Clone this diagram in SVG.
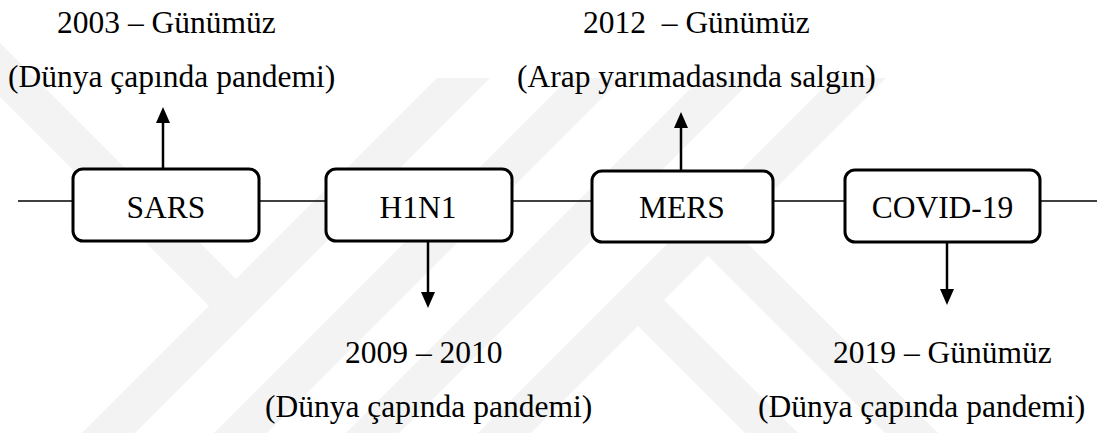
<svg xmlns="http://www.w3.org/2000/svg" width="1105" height="433" viewBox="0 0 1105 433">
  <style>
    .wm { fill: #f3f3f3; }
    .box { fill: #fff; stroke: #000; stroke-width: 3; }
    .lbl { font-family: "Liberation Serif", "Times New Roman", serif; font-size: 31.5px; fill: #000; }
    .mid { text-anchor: middle; }
    .tl { stroke: #000; stroke-width: 1.3; fill: none; }
    .ar { stroke: #000; stroke-width: 2.5; fill: none; }
    .hd { fill: #000; }
  </style>
  <rect x="0" y="0" width="1105" height="433" fill="#fff"/>
  <g id="watermark">
    <polygon class="wm" points="437,78 490,78 135,433 82,433"/>
    <polygon class="wm" points="569,78 622,78 267,433 214,433"/>
    <polygon class="wm" points="701,78 754,78 399,433 346,433"/>
    <polygon class="wm" points="833,78 886,78 531,433 478,433"/>
    <polygon class="wm" points="0,43 248,291 221,318 0,97"/>
    <polygon class="wm" points="652,288 798,433 745,433 626,314"/>
    <polygon class="wm" points="722,218 938,433 885,433 696,244"/>
  </g>
  <g id="connectors">
    <line class="tl" x1="18" y1="201" x2="73" y2="201"/>
    <line class="tl" x1="259" y1="201" x2="326" y2="201"/>
    <line class="tl" x1="512" y1="201" x2="592" y2="201"/>
    <line class="tl" x1="773" y1="201" x2="845" y2="201"/>
    <line class="tl" x1="1040" y1="201" x2="1097" y2="201"/>
    <line class="ar" x1="163" y1="169" x2="163" y2="121"/>
    <polygon class="hd" points="163,107 156,123 170,123"/>
    <line class="ar" x1="428" y1="241" x2="428" y2="295"/>
    <polygon class="hd" points="428,308 421,292 435,292"/>
    <line class="ar" x1="681" y1="171" x2="681" y2="126"/>
    <polygon class="hd" points="681,112 674,128 688,128"/>
    <line class="ar" x1="947" y1="242" x2="947" y2="292"/>
    <polygon class="hd" points="947,305 940,289 954,289"/>
  </g>
  <g id="sars">
    <rect class="box" x="73" y="169" width="186" height="72" rx="10"/>
    <text class="lbl mid" x="166" y="218">SARS</text>
  </g>
  <g id="h1n1">
    <rect class="box" x="326" y="169" width="186" height="72" rx="10"/>
    <text class="lbl mid" x="418" y="218">H1N1</text>
  </g>
  <g id="mers">
    <rect class="box" x="592" y="171" width="181" height="71" rx="10"/>
    <text class="lbl mid" x="682" y="218">MERS</text>
  </g>
  <g id="covid19">
    <rect class="box" x="845" y="170" width="195" height="72" rx="10"/>
    <text class="lbl mid" x="942.5" y="218">COVID-19</text>
  </g>
  <g id="label-sars">
    <text class="lbl" x="57" y="33">2003 – Günümüz</text>
    <text class="lbl" x="8" y="87">(Dünya çapında pandemi)</text>
  </g>
  <g id="label-mers">
    <text class="lbl" x="583" y="33" xml:space="preserve">2012  – Günümüz</text>
    <text class="lbl" x="517" y="87">(Arap yarımadasında salgın)</text>
  </g>
  <g id="label-h1n1">
    <text class="lbl" x="345" y="363">2009 – 2010</text>
    <text class="lbl" x="265" y="417">(Dünya çapında pandemi)</text>
  </g>
  <g id="label-covid19">
    <text class="lbl" x="833" y="363">2019 – Günümüz</text>
    <text class="lbl" x="758" y="417">(Dünya çapında pandemi)</text>
  </g>
</svg>
